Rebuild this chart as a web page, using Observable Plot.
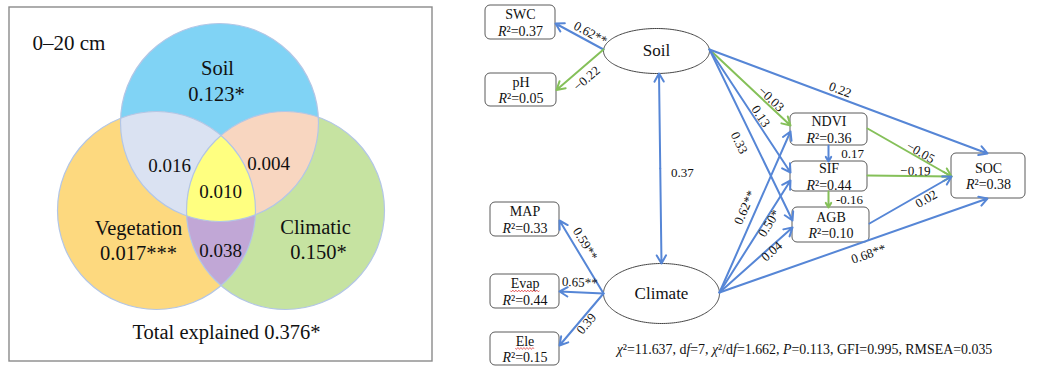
<!DOCTYPE html>
<html>
<head>
<meta charset="utf-8">
<script src="https://cdn.jsdelivr.net/npm/d3@7"></script>
<script src="https://cdn.jsdelivr.net/npm/@observablehq/plot@0.6"></script>
<style>
  html, body { margin: 0; padding: 0; background: #fff; }
  #chart svg { display: block; font-family: "Liberation Serif", "Times New Roman", serif; }
</style>
</head>
<body>
<div id="chart"></div>
<script>
// ---------- Variance partitioning of SOC, 0–20 cm ----------
const depthLabel = "0–20 cm";
const vennSets = ["Soil", "Vegetation", "Climatic"];
const vennUnique = [0.123, 0.017, 0.150];
const vennUniqueSig = ["*", "***", "*"];
const vennPairs = [["Soil", "Vegetation"], ["Soil", "Climatic"], ["Vegetation", "Climatic"]];
const vennPairValues = [0.016, 0.004, 0.038];
const vennSharedAll = 0.010;
const vennTotal = 0.376;
const vennTotalSig = "*";

// ---------- Structural equation model ----------
const latentNames = ["Soil", "Climate"];
const observedNames = ["SWC", "pH", "MAP", "Evap", "Ele", "NDVI", "SIF", "AGB", "SOC"];
const observedR2 = [0.37, 0.05, 0.33, 0.44, 0.15, 0.36, 0.44, 0.10, 0.38];
const pathFrom = ["Soil", "Soil", "Soil", "Soil", "Soil", "Soil",
  "Climate", "Climate", "Climate", "Climate", "Climate", "Climate", "Climate",
  "NDVI", "SIF", "NDVI", "SIF", "AGB"];
const pathTo = ["SWC", "pH", "NDVI", "SIF", "AGB", "SOC",
  "MAP", "Evap", "Ele", "NDVI", "SIF", "AGB", "SOC",
  "SIF", "AGB", "SOC", "SOC", "SOC"];
const pathLabels = ["0.62**", "−0.22", "−0.03", "0.13", "0.33", "0.22",
  "0.59**", "0.65**", "0.39", "0.62**", "0.50*", "0.04", "0.68**",
  "0.17", "-0.16", "−0.05", "−0.19", "0.02"];
const covFrom = "Soil", covTo = "Climate", covLabel = "0.37";
const fitChi2 = "11.637", fitDf = "7", fitRatio = "1.662", fitP = "0.113", fitGFI = "0.995", fitRMSEA = "0.035";

// ---------- Layout & style ----------
const W = 1056, H = 367;
const serif = "Liberation Serif";
const blue = "#5686d6", green = "#85c059";

const panelFrame = {x1: 9, x2: 432, y1: 7, y2: 361};
const R = 99;
const vennCircles = {
  Soil: {cx: 219, cy: 122, fill: "#80d3f5"},
  Vegetation: {cx: 156, cy: 210, fill: "#fdd97f"},
  Climatic: {cx: 285, cy: 210, fill: "#c6e3a1"}
};
const pairFills = ["#dae2f2", "#f8d6c0", "#c1a7d6"];
const allFill = "#ffff80";
const vennNamePos = {Soil: [217, 68], Vegetation: [138, 228], Climatic: [315, 227]};
const vennValuePos = {Soil: [216, 94], Vegetation: [138, 253], Climatic: [318, 252]};
const pairPos = [[169, 165], [268, 163], [220, 250]];
const allPos = [220, 191];
const totalPos = [226, 332];
const depthPos = [32, 43];

const boxes = {
  SWC: {x1: 485, x2: 555, y1: 5, y2: 39},
  pH: {x1: 485, x2: 556, y1: 73, y2: 106},
  MAP: {x1: 490, x2: 559, y1: 202, y2: 236},
  Evap: {x1: 490, x2: 559, y1: 274, y2: 308},
  Ele: {x1: 490, x2: 559, y1: 332, y2: 365},
  NDVI: {x1: 790, x2: 867, y1: 113, y2: 145},
  SIF: {x1: 790, x2: 867, y1: 161, y2: 191},
  AGB: {x1: 792, x2: 869, y1: 207, y2: 242},
  SOC: {x1: 951, x2: 1025, y1: 153, y2: 198}
};
const spellFlagged = ["Evap", "Ele"]; // names carrying a red wavy underline
const ellipses = {
  Soil: {cx: 656, cy: 50.5, rx: 53, ry: 22.5},
  Climate: {cx: 661, cy: 293, rx: 58, ry: 30}
};
// [source side, offset, target side, offset] for each path
const pathPorts = [
  ["L", -1.5, "R", 1], ["L", -1.5, "R", 0], ["R", -1.5, "L", -4], ["R", -1.5, "L", -4],
  ["R", -1.5, "L", -4.5], ["R", -1.5, "T", -1],
  ["L", 0, "R", 1], ["L", 0, "R", 0], ["L", 0, "R", -3.5], ["R", -1, "L", 2],
  ["R", -1, "L", 4], ["R", -1, "L", 2.5], ["R", -1, "B", -1],
  ["B", -0.5, "T", -0.5], ["B", -0.5, "T", -2.5], ["R", -1, "L", 0.5], ["R", -1, "L", 0.5], ["R", -1.5, "L", 0.5]
];
// label placement: [t along path, offset normal to text] or {t, dx, dy} for upright labels
const pathLabelPlace = [
  [0.35, 8], [0.51, -11], [0.71, 6], [0.57, 6], [0.51, -14], [0.46, 8],
  [0.61, 10], [0.55, 10], [0.5, -6.5], [0.5, 11], [0.64, -5], [0.68, -4], [0.54, -13],
  {t: 0.5, dx: 24, dy: 0}, {t: 0.5, dx: 21, dy: 0}, [0.6, 5.5], [0.57, 5], [0.65, -7]
];
const covLabelPlace = {t: 0.5, dx: 22, dy: 4};
const covPorts = ["B", 2.5, "T", 0];
const fitPos = [804, 349];
const fitSize = 13.9;

// ---------- Geometry helpers ----------
function centerOf(name) {
  if (boxes[name]) { const b = boxes[name]; return [(b.x1 + b.x2) / 2, (b.y1 + b.y2) / 2]; }
  const e = ellipses[name]; return [e.cx, e.cy];
}
function port(name, side, off) {
  let l, r, t, b;
  if (boxes[name]) ({x1: l, x2: r, y1: t, y2: b} = boxes[name]);
  else { const e = ellipses[name]; l = e.cx - e.rx; r = e.cx + e.rx; t = e.cy - e.ry; b = e.cy + e.ry; }
  const cx = (l + r) / 2, cy = (t + b) / 2;
  if (side === "L") return [l, cy + off];
  if (side === "R") return [r, cy + off];
  if (side === "T") return [cx + off, t];
  return [cx + off, b];
}
function placeLabel(p0, p1, place) {
  if (!Array.isArray(place)) {
    const {t, dx, dy} = place;
    return {x: p0[0] + (p1[0] - p0[0]) * t + dx, y: p0[1] + (p1[1] - p0[1]) * t + dy, angle: 0};
  }
  const [t, off] = place;
  let angle = Math.atan2(p1[1] - p0[1], p1[0] - p0[0]) * 180 / Math.PI;
  if (angle > 90) angle -= 180;
  if (angle <= -90) angle += 180;
  const a = angle * Math.PI / 180;
  return {
    x: p0[0] + (p1[0] - p0[0]) * t + off * Math.sin(a),
    y: p0[1] + (p1[1] - p0[1]) * t - off * Math.cos(a),
    angle
  };
}
function regionPolygon(names) {
  const cs = names.map(n => vennCircles[n]);
  const pts = [];
  const n = 3600;
  for (const c of cs) {
    for (let i = 0; i < n; i++) {
      const a = 2 * Math.PI * i / n;
      const p = {x: c.cx + R * Math.cos(a), y: c.cy + R * Math.sin(a)};
      if (cs.every(o => Math.hypot(p.x - o.cx, p.y - o.cy) <= R + 1e-6)) pts.push(p);
    }
  }
  const mx = d3.mean(pts, d => d.x), my = d3.mean(pts, d => d.y);
  pts.sort((a, b) => Math.atan2(a.y - my, a.x - mx) - Math.atan2(b.y - my, b.x - mx));
  return pts;
}
function ellipsePoints(e) {
  return d3.range(181).map(i => {
    const a = 2 * Math.PI * i / 180;
    return {x: e.cx + e.rx * Math.cos(a), y: e.cy + e.ry * Math.sin(a)};
  });
}
// mixed italic/upright runs laid out with measured widths
const ctx = document.createElement("canvas").getContext("2d");
function textWidth(s, size, italic) {
  ctx.font = `${italic ? "italic " : ""}${size}px "${serif}"`;
  return ctx.measureText(s).width;
}
function layoutRuns(parts, cx, cy, size) {
  const widths = parts.map(([s, it]) => textWidth(s, size, it));
  let x = cx - d3.sum(widths) / 2;
  return parts.map(([s, it], i) => { const o = {text: s, italic: it, x, y: cy}; x += widths[i]; return o; });
}
function wavyUnderline(name, size) {
  const [cx, cy] = centerOf(name);
  const w = textWidth(name, size, false);
  const base = cy - 7.5 + 0.32 * size + 2.5;
  return d3.range(0, w + 0.01, 0.75).map(dx => ({name, x: cx - w / 2 + dx, y: base + 0.9 * Math.sin(dx * Math.PI / 1.5)}));
}

// ---------- Venn data ----------
const circleData = vennSets.map(s => ({name: s, ...vennCircles[s]}));
const pairPolys = vennPairs.map(p => regionPolygon(p));
const allPoly = regionPolygon(vennSets);
const vennTexts = [
  ...vennSets.map(s => ({text: s, x: vennNamePos[s][0], y: vennNamePos[s][1], size: 20.5})),
  ...vennSets.map((s, i) => ({text: vennUnique[i].toFixed(3) + vennUniqueSig[i], x: vennValuePos[s][0], y: vennValuePos[s][1], size: 20.5})),
  ...vennPairValues.map((v, i) => ({text: v.toFixed(3), x: pairPos[i][0], y: pairPos[i][1], size: 19})),
  {text: vennSharedAll.toFixed(3), x: allPos[0], y: allPos[1], size: 19},
  {text: "Total explained " + vennTotal.toFixed(3) + vennTotalSig, x: totalPos[0], y: totalPos[1], size: 20.5}
];

// ---------- SEM data ----------
const boxData = observedNames.map((n, i) => ({name: n, r2: observedR2[i], ...boxes[n]}));
const paths = pathFrom.map((from, i) => {
  const [fs, fo, ts, to] = pathPorts[i];
  const p0 = port(from, fs, fo), p1 = port(pathTo[i], ts, to);
  const coef = parseFloat(pathLabels[i].replace("−", "-"));
  return {from, to: pathTo[i], label: pathLabels[i], coef, p0, p1, ...placeLabel(p0, p1, pathLabelPlace[i])};
});
const cp0 = port(covFrom, covPorts[0], covPorts[1]), cp1 = port(covTo, covPorts[2], covPorts[3]);
const cmid = [(cp0[0] + cp1[0]) / 2, (cp0[1] + cp1[1]) / 2];
const covArrows = [{a: cmid, b: cp0}, {a: cmid, b: cp1}];
const covText = [{label: covLabel, ...placeLabel(cp0, cp1, covLabelPlace)}];

const r2Runs = boxData.flatMap(d => {
  const [cx, cy] = centerOf(d.name);
  return layoutRuns([["R", true], ["²=" + d.r2.toFixed(2), false]], cx, cy + 9, 14);
});
const squiggles = spellFlagged.flatMap(n => wavyUnderline(n, 14));
const fitRuns = layoutRuns([
  ["χ", true], ["²=" + fitChi2 + ", d", false], ["f", true], ["=" + fitDf + ", ", false],
  ["χ", true], ["²/d", false], ["f", true], ["=" + fitRatio + ", ", false],
  ["P", true], ["=" + fitP + ", GFI=" + fitGFI + ", RMSEA=" + fitRMSEA, false]
], fitPos[0], fitPos[1], fitSize);

const T = {fontFamily: serif, fill: "#111"};

const chart = Plot.plot({
  width: W, height: H,
  margin: 0,
  x: {type: "linear", domain: [0, W], range: [0, W], axis: null},
  y: {type: "linear", domain: [0, H], range: [0, H], axis: null},
  color: {type: "identity"},
  style: {background: "#fff"},
  marks: [
    // Venn panel
    Plot.rect([panelFrame], {x1: "x1", x2: "x2", y1: "y1", y2: "y2", fill: "#fff", stroke: "#8a8a8a", strokeWidth: 1.4}),
    Plot.dot(circleData, {x: "cx", y: "cy", r: R, fill: "fill", stroke: "none"}),
    ...pairPolys.map((poly, i) => Plot.line(poly, {x: "x", y: "y", fill: pairFills[i], stroke: "none"})),
    Plot.line(allPoly, {x: "x", y: "y", fill: allFill, stroke: "none"}),
    Plot.dot(circleData, {x: "cx", y: "cy", r: R, fill: "none", stroke: "#b3c6e6", strokeWidth: 1.2}),
    Plot.text(vennTexts, {x: "x", y: "y", text: "text", fontSize: d => d.size, ...T}),
    Plot.text([depthLabel], {x: depthPos[0], y: depthPos[1], text: d => d, textAnchor: "start", fontSize: 21, ...T}),

    // SEM boxes and latent ellipses
    Plot.rect(boxData, {x1: "x1", x2: "x2", y1: "y1", y2: "y2", rx: 5, fill: "#fff", stroke: "#5a5a5a", strokeWidth: 1}),
    ...latentNames.map(n => Plot.line(ellipsePoints(ellipses[n]), {x: "x", y: "y", fill: "#fff", stroke: "#444", strokeWidth: 1})),

    // paths
    Plot.arrow(paths, {
      x1: d => d.p0[0], y1: d => d.p0[1], x2: d => d.p1[0], y2: d => d.p1[1],
      stroke: d => d.coef < 0 ? green : blue, strokeWidth: 2, headLength: 7, headAngle: 60
    }),
    Plot.arrow(covArrows, {
      x1: d => d.a[0], y1: d => d.a[1], x2: d => d.b[0], y2: d => d.b[1],
      stroke: blue, strokeWidth: 2, headLength: 7, headAngle: 60
    }),

    // texts
    Plot.text(latentNames, {x: d => ellipses[d].cx, y: d => ellipses[d].cy, text: d => d, fontSize: 17, ...T}),
    Plot.text(boxData, {x: d => centerOf(d.name)[0], y: d => centerOf(d.name)[1] - 7.5, text: "name", fontSize: 14, ...T}),
    Plot.line(squiggles, {x: "x", y: "y", z: "name", stroke: "#e03c3c", strokeWidth: 0.8}),
    Plot.text(r2Runs.filter(d => d.italic), {x: "x", y: "y", text: "text", textAnchor: "start", fontSize: 14, fontStyle: "italic", ...T}),
    Plot.text(r2Runs.filter(d => !d.italic), {x: "x", y: "y", text: "text", textAnchor: "start", fontSize: 14, ...T}),
    Plot.text(paths, {x: "x", y: "y", text: "label", rotate: "angle", fontSize: 13, ...T}),
    Plot.text(covText, {x: "x", y: "y", text: "label", fontSize: 13, ...T}),
    Plot.text(fitRuns.filter(d => d.italic), {x: "x", y: "y", text: "text", textAnchor: "start", fontSize: fitSize, fontStyle: "italic", ...T}),
    Plot.text(fitRuns.filter(d => !d.italic), {x: "x", y: "y", text: "text", textAnchor: "start", fontSize: fitSize, ...T})
  ]
});
document.getElementById("chart").append(chart);
</script>
</body>
</html>
